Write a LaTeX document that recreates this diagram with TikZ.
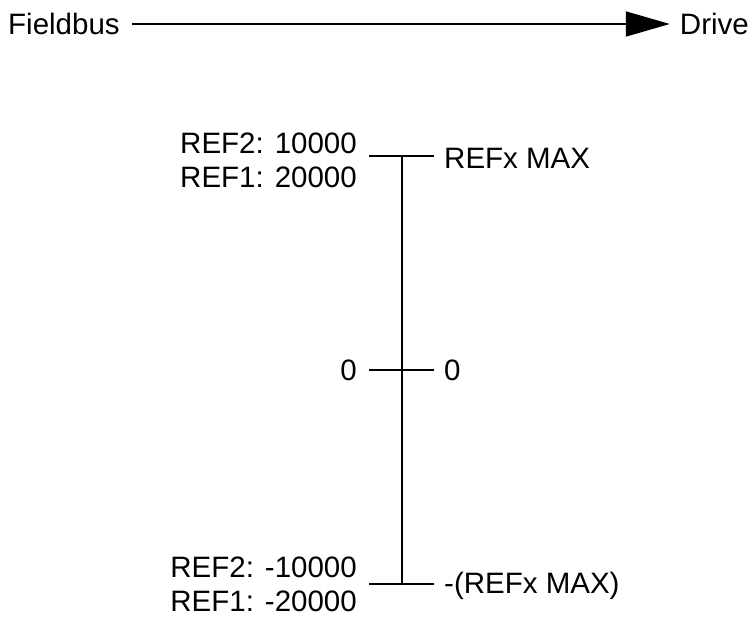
\documentclass[tikz,border=0pt]{standalone}
\usepackage{fontspec}
\setmainfont{Liberation Sans}
\usetikzlibrary{positioning, arrows.meta}
\tikzset{
  txt/.style={font=\fontsize{29.5}{34}\selectfont, inner sep=0pt},
  axis/.style={line width=1.8pt, draw=black},
  flow/.style={-{Triangle[length=44pt, width=25pt]}, line width=1.8pt, draw=black, shorten <=12pt, shorten >=10pt},
}

\begin{document}
\begin{tikzpicture}[x=1pt, y=1pt]
  \useasboundingbox (0,0) rectangle (751,616);
  % Fieldbus -> Drive
  \node[txt, anchor=west] (fb) at (8,592) {Fieldbus};
  \node[txt, anchor=east] (dr) at (749,592) {Drive};
  \draw[flow] (fb) -- (dr);

  % scale
  \coordinate (top) at (402,460);
  \coordinate (mid) at (402,246);
  \coordinate (bot) at (402,32);
  \coordinate[left=33pt of top] (topl);
  \coordinate[right=32pt of top] (topr);
  \coordinate[left=33pt of mid] (midl);
  \coordinate[right=32pt of mid] (midr);
  \coordinate[left=33pt of bot] (botl);
  \coordinate[right=32pt of bot] (botr);

  \draw[axis] (top) -- (bot);
  \draw[axis] (topl) -- (topr);
  \draw[axis] (midl) -- (midr);
  \draw[axis] (botl) -- (botr);

  % left: fieldbus values
  \node[txt, align=right, left=12pt of topl, yshift=-4pt] (reftop) {REF2: 10000\\REF1: 20000};
  \node[txt, left=12pt of midl] (zerol) {0};
  \node[txt, align=right, left=12pt of botl] (refbot) {REF2: -10000\\REF1: -20000};

  % right: drive values
  \node[txt, right=10pt of topr, yshift=-2pt] (maxtop) {REFx MAX};
  \node[txt, right=10pt of midr] (zeror) {0};
  \node[txt, right=10pt of botr, yshift=-2pt] (maxbot) {-(REFx MAX)};
\end{tikzpicture}
\end{document}
